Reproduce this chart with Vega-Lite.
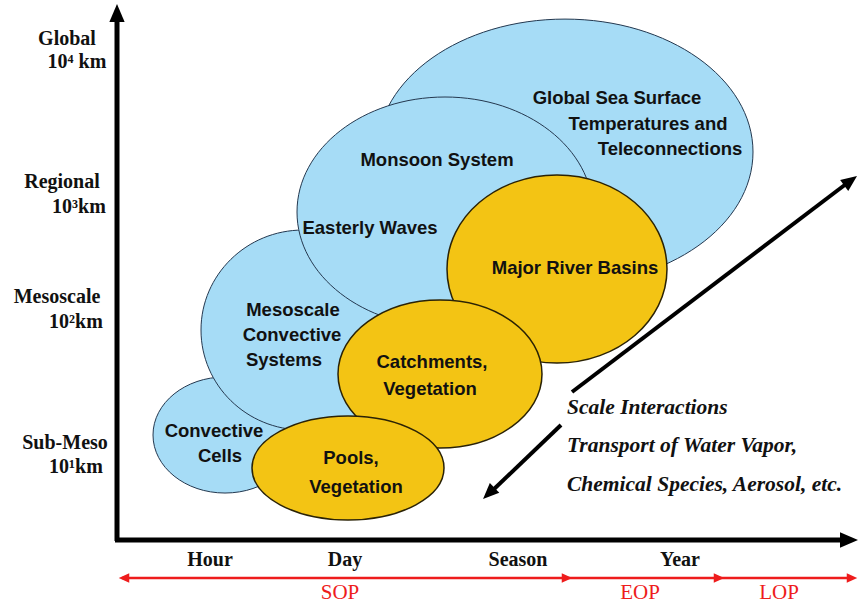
{
  "$schema": "https://vega.github.io/schema/vega-lite/v6.json",
  "width": 859,
  "height": 606,
  "autosize": {"type": "none"},
  "padding": 0,
  "background": "white",
  "config": {"view": {"stroke": null}},
  "datasets": {
    "ellipses": [
      {"name": "Global SST", "group": "atmosphere", "cx": 565, "cy": 152, "w": 376, "h": 266},
      {"name": "Convective Cells", "group": "atmosphere", "cx": 225, "cy": 435, "w": 144, "h": 116},
      {"name": "Mesoscale Convective Systems", "group": "atmosphere", "cx": 303, "cy": 330, "w": 204, "h": 200},
      {"name": "Monsoon System", "group": "atmosphere", "cx": 445, "cy": 212, "w": 296, "h": 230},
      {"name": "Major River Basins", "group": "land", "cx": 557, "cy": 269, "w": 220, "h": 188},
      {"name": "Catchments", "group": "land", "cx": 440, "cy": 374, "w": 204, "h": 148},
      {"name": "Pools", "group": "land", "cx": 348, "cy": 468, "w": 192, "h": 104}
    ],
    "lines": [
      {"kind": "axis", "x": 117, "y": 541, "x2": 117, "y2": 20},
      {"kind": "axis", "x": 115, "y": 540, "x2": 842, "y2": 540},
      {"kind": "diag", "x": 572, "y": 392, "x2": 846, "y2": 184},
      {"kind": "diag", "x": 561, "y": 425, "x2": 492, "y2": 491},
      {"kind": "period", "x": 122, "y": 578, "x2": 852, "y2": 578}
    ],
    "heads": [
      {"kind": "axis", "x": 117, "y": 13, "heading": 0},
      {"kind": "axis", "x": 849, "y": 540, "heading": 90},
      {"kind": "diag", "x": 850.6, "y": 180.8, "heading": 53.4},
      {"kind": "diag", "x": 488.8, "y": 493.4, "heading": 226},
      {"kind": "period", "x": 124, "y": 578, "heading": 270},
      {"kind": "period", "x": 567, "y": 578, "heading": 90},
      {"kind": "period", "x": 719, "y": 578, "heading": 90},
      {"kind": "period", "x": 852, "y": 578, "heading": 90}
    ],
    "labels": [
      {"kind": "inner", "text": "Global Sea Surface", "x": 617, "y": 98},
      {"kind": "inner", "text": "Temperatures and", "x": 648, "y": 124},
      {"kind": "inner", "text": "Teleconnections", "x": 670, "y": 149},
      {"kind": "inner", "text": "Monsoon System", "x": 437, "y": 160},
      {"kind": "inner", "text": "Easterly Waves", "x": 370, "y": 228},
      {"kind": "inner", "text": "Major River Basins", "x": 575, "y": 268},
      {"kind": "inner", "text": "Mesoscale", "x": 293, "y": 310},
      {"kind": "inner", "text": "Convective", "x": 292, "y": 335},
      {"kind": "inner", "text": "Systems", "x": 284, "y": 360},
      {"kind": "inner", "text": "Catchments,", "x": 432, "y": 362},
      {"kind": "inner", "text": "Vegetation", "x": 430, "y": 389},
      {"kind": "inner", "text": "Convective", "x": 214, "y": 431},
      {"kind": "inner", "text": "Cells", "x": 220, "y": 456},
      {"kind": "inner", "text": "Pools,", "x": 351, "y": 458},
      {"kind": "inner", "text": "Vegetation", "x": 356, "y": 487},
      {"kind": "scale", "text": "Global", "x": 67, "y": 39},
      {"kind": "scale", "text": "10⁴ km", "x": 77, "y": 62},
      {"kind": "scale", "text": "Regional", "x": 62, "y": 182},
      {"kind": "scale", "text": "10³km", "x": 79, "y": 207},
      {"kind": "scale", "text": "Mesoscale", "x": 57, "y": 297},
      {"kind": "scale", "text": "10²km", "x": 76, "y": 322},
      {"kind": "scale", "text": "Sub-Meso", "x": 65, "y": 443},
      {"kind": "scale", "text": "10¹km", "x": 76, "y": 467},
      {"kind": "scale", "text": "Hour", "x": 210, "y": 560},
      {"kind": "scale", "text": "Day", "x": 345, "y": 560},
      {"kind": "scale", "text": "Season", "x": 518, "y": 560},
      {"kind": "scale", "text": "Year", "x": 680, "y": 560},
      {"kind": "period", "text": "SOP", "x": 340, "y": 593},
      {"kind": "period", "text": "EOP", "x": 640, "y": 593},
      {"kind": "period", "text": "LOP", "x": 779, "y": 593},
      {"kind": "note", "text": "Scale Interactions", "x": 567, "y": 408},
      {"kind": "note", "text": "Transport of Water Vapor,", "x": 567, "y": 446},
      {"kind": "note", "text": "Chemical Species, Aerosol, etc.", "x": 567, "y": 485}
    ]
  },
  "encoding": {
    "x": {"field": "x", "type": "quantitative", "scale": {"domain": [0, 859], "nice": false, "zero": false}, "axis": null},
    "y": {"field": "y", "type": "quantitative", "scale": {"domain": [0, 606], "nice": false, "zero": false, "reverse": true}, "axis": null}
  },
  "layer": [
    {
      "data": {"name": "ellipses"},
      "transform": [{"filter": "datum.name === 'Global SST'"}],
      "mark": {"type": "point", "shape": "M-1,0A1,0.707 0 1,1 1,0A1,0.707 0 1,1 -1,0Z", "filled": true, "fill": "#a6dcf6", "stroke": "#24384f", "strokeWidth": 1, "opacity": 1},
      "encoding": {
        "x": {"field": "cx", "type": "quantitative"},
        "y": {"field": "cy", "type": "quantitative"},
        "size": {"field": "w", "type": "quantitative", "scale": {"type": "pow", "exponent": 2, "domain": [0, 1000], "range": [0, 1000000]}, "legend": null}
      }
    },
    {
      "data": {"name": "ellipses"},
      "transform": [{"filter": "datum.name === 'Convective Cells'"}],
      "mark": {"type": "point", "shape": "M-1,0A1,0.806 0 1,1 1,0A1,0.806 0 1,1 -1,0Z", "filled": true, "fill": "#a6dcf6", "stroke": "#24384f", "strokeWidth": 1, "opacity": 1},
      "encoding": {
        "x": {"field": "cx", "type": "quantitative"},
        "y": {"field": "cy", "type": "quantitative"},
        "size": {"field": "w", "type": "quantitative", "scale": {"type": "pow", "exponent": 2, "domain": [0, 1000], "range": [0, 1000000]}, "legend": null}
      }
    },
    {
      "data": {"name": "ellipses"},
      "transform": [{"filter": "datum.name === 'Mesoscale Convective Systems'"}],
      "mark": {"type": "point", "shape": "M-1,0A1,0.98 0 1,1 1,0A1,0.98 0 1,1 -1,0Z", "filled": true, "fill": "#a6dcf6", "stroke": "#24384f", "strokeWidth": 1, "opacity": 1},
      "encoding": {
        "x": {"field": "cx", "type": "quantitative"},
        "y": {"field": "cy", "type": "quantitative"},
        "size": {"field": "w", "type": "quantitative", "scale": {"type": "pow", "exponent": 2, "domain": [0, 1000], "range": [0, 1000000]}, "legend": null}
      }
    },
    {
      "data": {"name": "ellipses"},
      "transform": [{"filter": "datum.name === 'Monsoon System'"}],
      "mark": {"type": "point", "shape": "M-1,0A1,0.777 0 1,1 1,0A1,0.777 0 1,1 -1,0Z", "filled": true, "fill": "#a6dcf6", "stroke": "#24384f", "strokeWidth": 1, "opacity": 1},
      "encoding": {
        "x": {"field": "cx", "type": "quantitative"},
        "y": {"field": "cy", "type": "quantitative"},
        "size": {"field": "w", "type": "quantitative", "scale": {"type": "pow", "exponent": 2, "domain": [0, 1000], "range": [0, 1000000]}, "legend": null}
      }
    },
    {
      "data": {"name": "ellipses"},
      "transform": [{"filter": "datum.name === 'Major River Basins'"}],
      "mark": {"type": "point", "shape": "M-1,0A1,0.855 0 1,1 1,0A1,0.855 0 1,1 -1,0Z", "filled": true, "fill": "#f3c414", "stroke": "#2a2205", "strokeWidth": 1.5, "opacity": 1},
      "encoding": {
        "x": {"field": "cx", "type": "quantitative"},
        "y": {"field": "cy", "type": "quantitative"},
        "size": {"field": "w", "type": "quantitative", "scale": {"type": "pow", "exponent": 2, "domain": [0, 1000], "range": [0, 1000000]}, "legend": null}
      }
    },
    {
      "data": {"name": "ellipses"},
      "transform": [{"filter": "datum.name === 'Catchments'"}],
      "mark": {"type": "point", "shape": "M-1,0A1,0.725 0 1,1 1,0A1,0.725 0 1,1 -1,0Z", "filled": true, "fill": "#f3c414", "stroke": "#2a2205", "strokeWidth": 1.5, "opacity": 1},
      "encoding": {
        "x": {"field": "cx", "type": "quantitative"},
        "y": {"field": "cy", "type": "quantitative"},
        "size": {"field": "w", "type": "quantitative", "scale": {"type": "pow", "exponent": 2, "domain": [0, 1000], "range": [0, 1000000]}, "legend": null}
      }
    },
    {
      "data": {"name": "ellipses"},
      "transform": [{"filter": "datum.name === 'Pools'"}],
      "mark": {"type": "point", "shape": "M-1,0A1,0.542 0 1,1 1,0A1,0.542 0 1,1 -1,0Z", "filled": true, "fill": "#f3c414", "stroke": "#2a2205", "strokeWidth": 1.5, "opacity": 1},
      "encoding": {
        "x": {"field": "cx", "type": "quantitative"},
        "y": {"field": "cy", "type": "quantitative"},
        "size": {"field": "w", "type": "quantitative", "scale": {"type": "pow", "exponent": 2, "domain": [0, 1000], "range": [0, 1000000]}, "legend": null}
      }
    },
    {
      "data": {"name": "lines"},
      "transform": [{"filter": "datum.kind === 'axis'"}],
      "mark": {"type": "rule", "color": "black", "strokeWidth": 5, "strokeCap": "butt"},
      "encoding": {
        "x2": {"field": "x2"},
        "y2": {"field": "y2"}
      }
    },
    {
      "data": {"name": "lines"},
      "transform": [{"filter": "datum.kind === 'diag'"}],
      "mark": {"type": "rule", "color": "black", "strokeWidth": 4, "strokeCap": "butt"},
      "encoding": {
        "x2": {"field": "x2"},
        "y2": {"field": "y2"}
      }
    },
    {
      "data": {"name": "lines"},
      "transform": [{"filter": "datum.kind === 'period'"}],
      "mark": {"type": "rule", "color": "#ee1c1c", "strokeWidth": 2.5, "strokeCap": "butt"},
      "encoding": {
        "x2": {"field": "x2"},
        "y2": {"field": "y2"}
      }
    },
    {
      "data": {"name": "heads"},
      "transform": [{"filter": "datum.kind === 'axis'"}],
      "mark": {"type": "point", "shape": "M0,-1L0.85,1L-0.85,1Z", "filled": true, "color": "black", "opacity": 1, "size": 324},
      "encoding": {"angle": {"field": "heading", "type": "quantitative", "scale": null}}
    },
    {
      "data": {"name": "heads"},
      "transform": [{"filter": "datum.kind === 'diag'"}],
      "mark": {"type": "point", "shape": "M0,-1L0.85,1L-0.85,1Z", "filled": true, "color": "black", "opacity": 1, "size": 256},
      "encoding": {"angle": {"field": "heading", "type": "quantitative", "scale": null}}
    },
    {
      "data": {"name": "heads"},
      "transform": [{"filter": "datum.kind === 'period'"}],
      "mark": {"type": "point", "shape": "M0,-1L0.9,1L-0.9,1Z", "filled": true, "color": "#ee1c1c", "opacity": 1, "size": 110},
      "encoding": {"angle": {"field": "heading", "type": "quantitative", "scale": null}}
    },
    {
      "data": {"name": "labels"},
      "transform": [{"filter": "datum.kind === 'inner'"}],
      "mark": {"type": "text", "font": "Liberation Sans", "fontWeight": "bold", "fontSize": 18.5, "color": "#111111", "align": "center", "baseline": "middle"},
      "encoding": {"text": {"field": "text"}}
    },
    {
      "data": {"name": "labels"},
      "transform": [{"filter": "datum.kind === 'scale'"}],
      "mark": {"type": "text", "font": "Liberation Serif", "fontWeight": "bold", "fontSize": 20, "color": "#111111", "align": "center", "baseline": "middle"},
      "encoding": {"text": {"field": "text"}}
    },
    {
      "data": {"name": "labels"},
      "transform": [{"filter": "datum.kind === 'period'"}],
      "mark": {"type": "text", "font": "Liberation Serif", "fontSize": 21, "color": "#ee1c1c", "align": "center", "baseline": "middle"},
      "encoding": {"text": {"field": "text"}}
    },
    {
      "data": {"name": "labels"},
      "transform": [{"filter": "datum.kind === 'note'"}],
      "mark": {"type": "text", "font": "Liberation Serif", "fontWeight": "bold", "fontStyle": "italic", "fontSize": 21.5, "color": "#111111", "align": "left", "baseline": "middle"},
      "encoding": {"text": {"field": "text"}}
    }
  ]
}
